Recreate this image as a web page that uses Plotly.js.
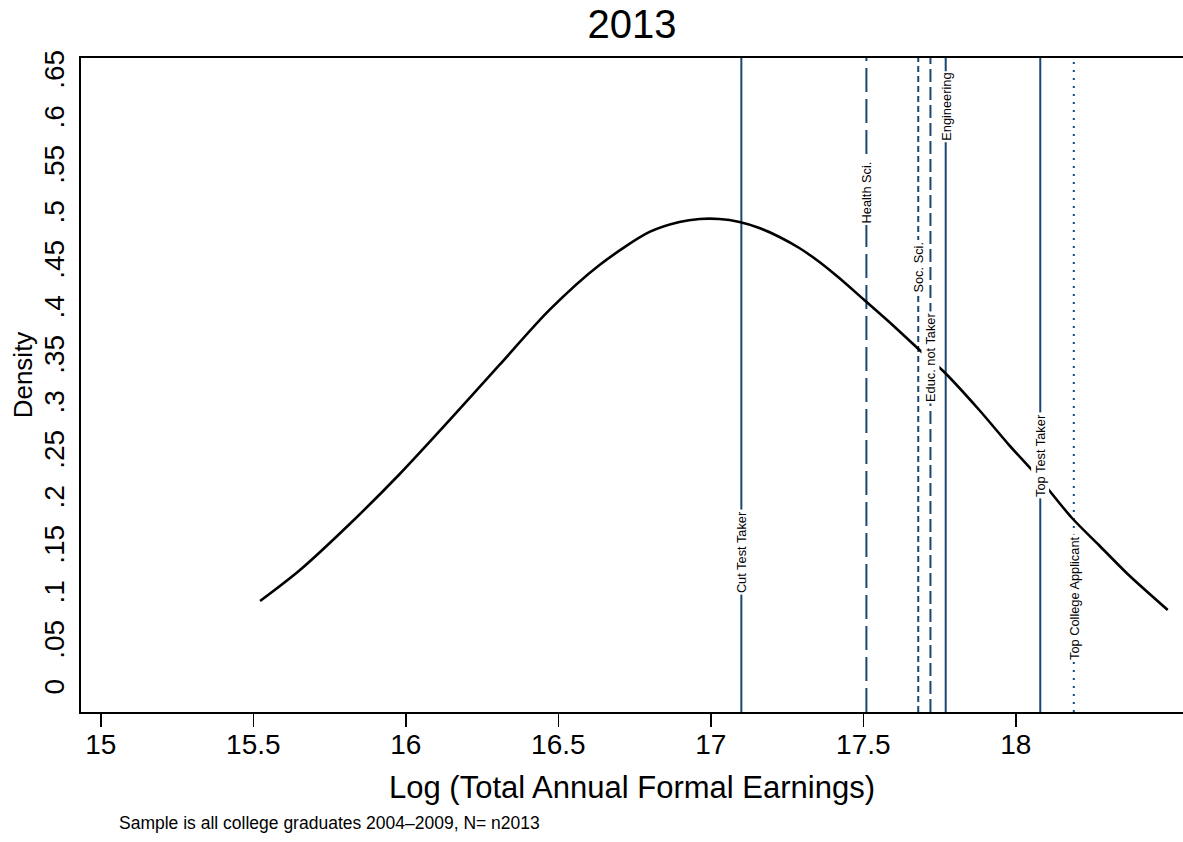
<!DOCTYPE html>
<html>
<head>
<meta charset="utf-8">
<script src="https://cdn.plot.ly/plotly-3.0.1.min.js"></script>
<style>
  html, body { margin: 0; padding: 0; background: #ffffff; }
  #chart { width: 1183px; height: 842px; }
</style>
</head>
<body>
<div id="chart"></div>
<script>
// Kernel density of log annual formal earnings, 2013
const densityX = [15.522, 15.653, 15.816, 15.980, 16.144, 16.307, 16.471, 16.635, 16.799, 16.897,
                  16.963, 17.028, 17.094, 17.159, 17.225, 17.290, 17.356, 17.421, 17.503, 17.585,
                  17.677, 17.765, 17.880, 17.978, 18.076, 18.184, 18.272, 18.370, 18.498];
const densityY = [0.0947, 0.1274, 0.1758, 0.2284, 0.2853, 0.3432, 0.4011, 0.4484, 0.4832, 0.4937,
                  0.4968, 0.4968, 0.4937, 0.4874, 0.4779, 0.4663, 0.4516, 0.4347, 0.4116, 0.3884,
                  0.3611, 0.3358, 0.2958, 0.2589, 0.2242, 0.1821, 0.1537, 0.1221, 0.0853];

// Reference groups marked as vertical lines
const groupNames = ["Cut Test Taker", "Health Sci.", "Soc. Sci.", "Educ. not Taker",
                    "Engineering", "Top Test Taker", "Top College Applicant"];
const groupValues = [17.10, 17.51, 17.68, 17.72, 17.77, 18.08, 18.19];

// Axis ticks
const xTicks = [15, 15.5, 16, 16.5, 17, 17.5, 18];
const xTickLabels = ["15", "15.5", "16", "16.5", "17", "17.5", "18"];
const yTicks = [0, 0.05, 0.1, 0.15, 0.2, 0.25, 0.3, 0.35, 0.4, 0.45, 0.5, 0.55, 0.6, 0.65];
const yTickLabels = ["0", ".05", ".1", ".15", ".2", ".25", ".3", ".35", ".4", ".45", ".5", ".55", ".6", ".65"];

// Line styling and label placement (paper fraction of plot height) for each group
const groupDash = ["solid", "24px,7px", "6px,4px", "13px,5px", "solid", "solid", "2px,6px"];
const labelPos = [0.245, 0.795, 0.680, 0.542, 0.925, 0.392, 0.174];

const NAVY = "#1a476f";
const FONT = "Liberation Sans, Arial, Helvetica, sans-serif";

const shapes = groupValues.map((v, i) => ({
  type: "line", xref: "x", yref: "paper",
  x0: v, x1: v, y0: 0, y1: 1,
  line: { color: NAVY, width: 2, dash: groupDash[i] },
  layer: "below"
}));

const annotations = groupValues.map((v, i) => ({
  x: v, xref: "x", y: labelPos[i], yref: "paper",
  text: groupNames[i], textangle: -90, showarrow: false,
  font: { family: FONT, size: 12.8, color: "#000000" },
  bgcolor: "#ffffff", borderpad: 1,
  xanchor: "center", yanchor: "middle"
}));

// y-axis title
annotations.push({
  x: -0.0525, xref: "paper", y: 0.515, yref: "paper",
  xanchor: "center", yanchor: "middle", showarrow: false,
  text: "Density", textangle: -90,
  font: { family: FONT, size: 26, color: "#000000" }
});

// note under the x-axis title
annotations.push({
  x: 0.0327, xref: "paper", y: -0.170, yref: "paper",
  xanchor: "left", yanchor: "middle", showarrow: false,
  text: "Sample is all college graduates 2004\u20132009, N= n2013",
  font: { family: FONT, size: 17.5, color: "#000000" }
});

const trace = {
  type: "scatter", mode: "lines",
  x: densityX, y: densityY,
  line: { color: "#000000", width: 2.6, shape: "spline", smoothing: 0.8 },
  hoverinfo: "skip", showlegend: false
};

const layout = {
  width: 1183, height: 842,
  margin: { l: 81, r: 0, t: 58, b: 130, pad: 0 },
  paper_bgcolor: "#ffffff", plot_bgcolor: "#ffffff",
  font: { family: FONT, color: "#000000" },
  title: {
    text: "2013", x: 0.5, xref: "paper", y: 0.972, yref: "container",
    xanchor: "center", yanchor: "middle",
    font: { family: FONT, size: 40, color: "#000000" }
  },
  xaxis: {
    range: [14.935, 18.548],
    tickmode: "array", tickvals: xTicks, ticktext: xTickLabels,
    ticks: "outside", ticklen: 13, tickwidth: 1.6, tickcolor: "#000000",
    ticklabelstandoff: -7,
    tickfont: { family: FONT, size: 28 },
    showline: true, linecolor: "#000000", linewidth: 2, mirror: true,
    showgrid: false, zeroline: false,
    title: { text: "Log (Total Annual Formal Earnings)", standoff: 18,
             font: { family: FONT, size: 31 } }
  },
  yaxis: {
    range: [-0.0221, 0.6663],
    tickmode: "array", tickvals: yTicks, ticktext: yTickLabels,
    tickangle: -90, ticks: "", ticklabelstandoff: 4,
    tickfont: { family: FONT, size: 28 },
    showline: true, linecolor: "#000000", linewidth: 2, mirror: false,
    showgrid: false, zeroline: false
  },
  shapes: shapes,
  annotations: annotations
};

Plotly.newPlot("chart", [trace], layout, { displayModeBar: false, staticPlot: true });
</script>
</body>
</html>
